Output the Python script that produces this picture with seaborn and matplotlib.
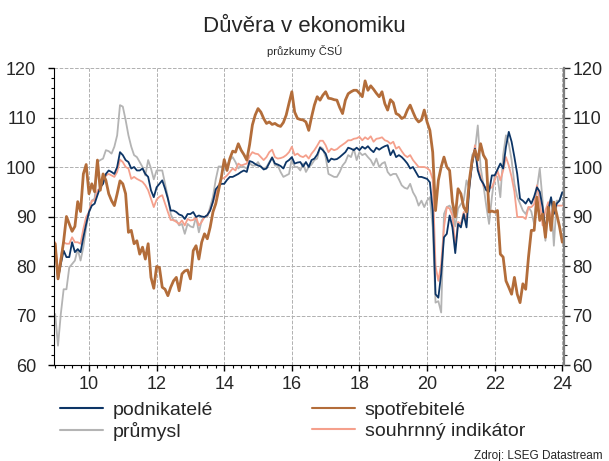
import pandas
import numpy
import seaborn as sns
import matplotlib.pyplot as plt
from matplotlib.ticker import MultipleLocator
#------------------------------

#data (monthly, 2009-01 .. 2024-01)
podnikatele = [
    83.8, 77.4, 80.4, 83.1, 81.8, 81.8, 84.8, 82.8, 83.4, 82.8, 85.8, 88.5,
    90.9, 92.2, 92.6, 94.3, 95.9, 96.6, 98.6, 99.3, 99.0, 98.6, 100.0, 103.0,
    102.4, 101.4, 101.0, 99.7, 100.0, 99.3, 99.3, 99.7, 98.6, 98.0, 95.3, 93.9,
    95.9, 96.6, 97.3, 95.6, 93.6, 91.2, 91.2, 90.9, 90.4, 90.2, 89.5, 90.5,
    90.5, 90.9, 89.9, 90.2, 90.0, 89.9, 90.3, 91.2, 93.0, 95.5, 96.2, 96.6,
    96.6, 97.4, 98.0, 98.0, 98.3, 98.6, 99.0, 99.3, 99.0, 101.2, 101.0, 100.6,
    100.3, 100.1, 99.5, 99.7, 100.8, 101.9, 100.7, 100.5, 100.2, 99.7, 101.0, 101.4,
    102.0, 100.7, 100.9, 101.0, 100.1, 101.0, 100.0, 101.4, 101.7, 102.5, 103.9, 103.4,
    102.7, 101.0, 101.7, 101.5, 101.6, 102.0, 102.5, 103.0, 103.9, 103.7, 103.4, 103.9,
    103.4, 104.1, 103.7, 104.2, 103.5, 103.0, 103.9, 103.5, 103.9, 104.2, 104.4, 102.4,
    103.4, 102.0, 102.4, 102.0, 101.4, 100.7, 99.7, 100.0, 99.0, 98.0, 98.0, 97.8,
    97.6, 96.9, 91.2, 74.3, 73.6, 78.4, 85.8, 86.5, 90.2, 87.8, 82.6, 88.5,
    87.8, 90.5, 87.8, 95.9, 100.7, 103.7, 99.3, 97.5, 96.6, 95.3, 95.0, 98.3,
    98.3, 99.5, 100.7, 99.7, 104.1, 107.1, 105.1, 102.0, 98.6, 93.6, 93.2, 92.6,
    93.6, 92.6, 94.0, 95.9, 95.0, 91.9, 87.2, 91.2, 93.9, 90.5, 92.6, 93.2,
    94.9]

spotrebitele = [
    84.5, 77.4, 81.0, 85.0, 90.0, 88.5, 87.0, 88.0, 93.0, 91.0, 98.6, 100.5,
    94.6, 96.6, 95.0, 101.4, 95.3, 98.6, 97.3, 94.6, 93.2, 92.2, 94.6, 97.2,
    96.6, 94.6, 86.8, 87.2, 84.5, 85.1, 82.4, 83.8, 81.4, 84.5, 77.7, 75.5,
    79.9, 79.7, 75.7, 75.3, 74.0, 75.7, 77.0, 77.7, 75.0, 78.4, 79.0, 79.2,
    77.4, 83.1, 84.1, 81.4, 84.8, 86.5, 85.5, 87.8, 90.9, 92.6, 95.3, 98.0,
    101.5, 99.3, 101.7, 103.2, 103.0, 104.7, 103.4, 102.5, 101.4, 104.5, 108.5, 110.5,
    111.8, 111.1, 109.8, 108.8, 109.1, 108.6, 108.8, 108.4, 108.2, 109.0, 110.5, 112.9,
    115.2, 111.1, 109.8, 109.6, 109.5, 109.1, 107.4, 110.1, 112.5, 114.2, 113.5, 114.5,
    115.2, 113.9, 113.8, 113.6, 113.5, 112.0, 110.8, 113.5, 114.8, 115.2, 115.5, 115.5,
    114.9, 114.2, 117.4, 115.5, 116.4, 115.7, 114.9, 114.2, 115.2, 112.8, 111.5, 113.6,
    113.0, 110.8, 110.5, 109.8, 110.1, 111.5, 112.5, 111.1, 109.8, 109.1, 109.5, 111.5,
    109.1, 107.4, 103.0, 91.2, 97.3, 100.0, 102.0, 100.0, 99.3, 92.9, 89.9, 95.6,
    94.6, 91.9, 90.9, 97.3, 101.4, 103.4, 101.4, 104.7, 102.4, 101.4, 90.9, 91.1,
    90.9, 91.2, 82.4, 81.8, 77.0, 75.7, 74.3, 77.7, 74.3, 72.6, 76.4, 75.3,
    81.8, 87.2, 87.2, 93.9, 89.2, 90.5, 85.8, 91.9, 87.2, 92.9, 90.5, 88.0,
    84.8]

prumysl = [
    70.3, 63.9, 70.3, 75.3, 75.3, 79.7, 80.4, 81.1, 83.4, 81.1, 83.8, 87.8,
    90.9, 93.2, 93.6, 101.0, 101.4, 101.7, 103.4, 103.2, 102.7, 104.1, 106.4, 112.5,
    112.2, 109.5, 106.4, 104.1, 102.4, 102.0, 101.0, 100.0, 98.3, 101.4, 99.7, 97.5,
    99.3, 99.3, 99.3, 96.6, 93.9, 90.5, 89.2, 89.2, 88.2, 88.5, 86.5, 88.5,
    88.0, 87.8, 89.9, 86.8, 89.2, 89.9, 89.9, 91.9, 94.0, 97.5, 100.1, 100.1,
    99.3, 100.3, 101.4, 102.0, 101.0, 99.7, 100.3, 100.0, 99.7, 100.8, 100.3, 100.3,
    101.0, 100.0, 99.7, 100.0, 101.0, 102.0, 100.3, 100.3, 99.0, 98.0, 98.3, 98.6,
    101.7, 100.0, 100.0, 99.3, 100.7, 99.0, 100.0, 100.5, 101.4, 101.7, 104.1, 103.7,
    102.0, 98.6, 98.3, 98.0, 98.0, 99.0, 100.3, 101.0, 102.4, 102.0, 103.7, 101.4,
    103.0, 102.4, 102.7, 102.0, 101.4, 100.3, 101.7, 100.0, 100.7, 101.0, 99.0, 98.3,
    98.6, 98.6, 97.5, 96.3, 95.8, 95.6, 96.6, 94.9, 93.9, 92.2, 93.2, 91.9,
    93.2, 93.9, 87.8, 72.6, 72.9, 70.6, 90.5, 91.9, 92.2, 91.2, 88.0, 91.6,
    92.5, 93.2, 97.3, 95.6, 102.4, 103.4, 108.4, 100.0, 96.3, 92.2, 88.5, 93.9,
    98.3, 98.0, 93.9, 102.4, 106.4, 104.7, 101.4, 96.6, 94.0, 92.6, 91.2, 90.5,
    91.9, 91.0, 88.5, 95.6, 99.7, 93.2, 85.1, 91.9, 93.6, 84.1, 93.2, 93.2,
    94.9]

souhrnny = [
    84.8, 78.4, 81.8, 84.8, 84.5, 84.5, 85.8, 84.8, 84.8, 84.5, 87.5, 89.9,
    90.9, 93.2, 93.2, 95.3, 95.6, 97.3, 98.3, 98.6, 98.3, 98.0, 99.0, 101.5,
    101.0, 100.0, 99.7, 97.6, 98.0, 97.6, 97.3, 97.0, 96.3, 95.3, 93.6, 91.9,
    93.4, 94.0, 94.3, 92.6, 90.9, 89.3, 89.3, 88.9, 88.5, 89.2, 88.2, 89.5,
    89.2, 89.3, 89.9, 88.2, 88.9, 89.9, 90.2, 91.3, 92.9, 94.5, 96.3, 97.6,
    97.8, 98.3, 99.0, 99.7, 99.3, 100.7, 100.3, 100.5, 100.7, 102.2, 103.0, 102.7,
    102.6, 102.0, 101.4, 102.0, 103.0, 103.5, 102.0, 101.7, 101.8, 102.0, 102.4, 103.0,
    104.1, 102.4, 102.7, 102.2, 102.0, 102.4, 101.7, 102.7, 103.4, 104.3, 105.3, 105.3,
    104.4, 103.0, 103.7, 103.4, 103.6, 104.1, 104.5, 104.9, 105.4, 105.4, 105.7, 105.8,
    106.1, 105.4, 106.0, 105.6, 106.2, 105.1, 105.7, 105.8, 106.0, 105.4, 105.2, 104.7,
    105.1, 103.7, 104.1, 103.2, 102.4, 102.0, 102.4, 101.4, 100.7, 100.0, 100.0, 100.0,
    99.8, 99.3, 97.5, 80.0, 77.0, 80.4, 87.8, 91.9, 91.6, 90.2, 84.0, 88.9,
    88.5, 90.9, 89.2, 96.6, 100.7, 104.4, 100.0, 98.0, 96.2, 95.9, 95.6, 95.9,
    97.3, 99.3, 97.3, 99.3, 102.0, 100.3, 98.0, 95.0, 89.9, 89.9, 89.9, 89.5,
    91.9, 91.9, 92.5, 96.3, 93.2, 88.2, 91.2, 92.9, 89.2, 91.9, 92.2, 92.2,
    92.2]

x_ticks = [2010, 2012, 2014, 2016, 2018, 2020, 2022, 2024]
x_labels = ["10", "12", "14", "16", "18", "20", "22", "24"]
y_ticks = [60, 70, 80, 90, 100, 110, 120]

#months -> decimal years
months = pandas.date_range("2009-01-01", periods=len(podnikatele), freq="MS")
years = months.year + (months.month - 1) / 12.0

data_frame = pandas.DataFrame({
    "rok": years,
    "podnikatelé": podnikatele,
    "spotřebitelé": spotrebitele,
    "průmysl": prumysl,
    "souhrnný indikátor": souhrnny,
})

#style
sns.set_style("white")
plt.rcParams["font.family"] = ["Liberation Sans", "DejaVu Sans"]

fig = plt.figure(figsize=(6.09, 4.61), dpi=100)
ax = fig.add_axes([54 / 609, 1 - 365 / 461, 510 / 609, 297 / 461])

#lines (draw order != legend order)
styles = [
    ("průmysl", "#b4b4b4", 1.3),
    ("souhrnný indikátor", "#f5a08c", 1.3),
    ("podnikatelé", "#0d3566", 1.3),
    ("spotřebitelé", "#b36d3a", 2.0),
]
for name, color, width in styles:
    sns.lineplot(x="rok", y=name, data=data_frame, ax=ax, color=color,
                 linewidth=width, label=name)

ax.set_xlim(2008.965, 2024.05)
ax.set_ylim(60, 120)
ax.set_xlabel("")
ax.set_ylabel("")
ax.set_xticks(x_ticks)
ax.set_xticklabels(x_labels)
ax.set_yticks(y_ticks)
ax.xaxis.set_minor_locator(MultipleLocator(0.25))
ax.yaxis.set_minor_locator(MultipleLocator(2))
ax.tick_params(axis="both", which="both", direction="out", color="black",
               labelsize=13, bottom=True, left=True)
ax.tick_params(axis="both", which="major", length=4, width=1)
ax.tick_params(axis="both", which="minor", length=2.5, width=0.8)
ax.tick_params(axis="y", pad=9)
ax.tick_params(axis="x", pad=4)
ax.grid(True, which="major", linestyle="--", color="#b0b0b0", linewidth=0.7)

ax.spines["top"].set_visible(False)
ax.spines["right"].set_visible(False)
ax.spines["left"].set_color("black")
ax.spines["bottom"].set_color("black")

#right axis copy
ax2 = ax.twinx()
ax2.set_ylim(60, 120)
ax2.set_yticks(y_ticks)
ax2.yaxis.set_minor_locator(MultipleLocator(2))
ax2.tick_params(axis="y", which="both", direction="out", right=True,
                labelsize=13, pad=2)
ax2.tick_params(axis="y", which="major", length=4, width=1)
ax2.tick_params(axis="y", which="minor", length=2.5, width=0.8)
for s in ["top", "left", "bottom"]:
    ax2.spines[s].set_visible(False)
ax2.spines["right"].set_color("#7f7f7f")
ax2.spines["right"].set_linewidth(1.6)

#legend
handles, labels = ax.get_legend_handles_labels()
ax.get_legend().remove()
order = ["podnikatelé", "průmysl", "spotřebitelé", "souhrnný indikátor"]
hl = dict(zip(labels, handles))
leg = fig.legend([hl[k] for k in order], order, ncol=2, loc="upper left",
                 bbox_to_anchor=(60 / 609, 1 - 401 / 461), frameon=False,
                 fontsize=14, handlelength=2.2, handletextpad=0.5,
                 columnspacing=5.1, labelspacing=0.17, borderpad=0,
                 borderaxespad=0)
for line in leg.get_lines():
    line.set_linewidth(1.5)

#texts
fig.text(0.5, 1 - 32 / 461, "Důvěra v ekonomiku", ha="center",
         va="baseline", fontsize=16)
fig.text(0.5, 1 - 55 / 461, "průzkumy ČSÚ", ha="center", va="baseline",
         fontsize=8)
fig.text(603 / 609, 1 - 459 / 461, "Zdroj: LSEG Datastream", ha="right",
         va="baseline", fontsize=8.5)

fig.savefig("out.png", dpi=100)
